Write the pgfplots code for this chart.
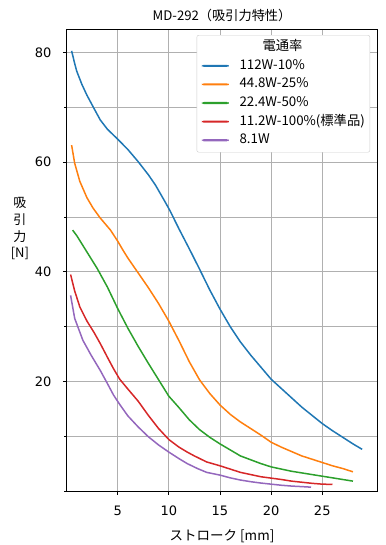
\documentclass[border=0pt]{standalone}
\usepackage{fontspec}
\setmainfont{Noto Sans CJK JP}
\newfontfamily\dejavu{DejaVu Sans}
\usepackage{pgfplots}
\pgfplotsset{compat=1.18}
\definecolor{c1}{HTML}{1F77B4}
\definecolor{c2}{HTML}{FF7F0E}
\definecolor{c3}{HTML}{2CA02C}
\definecolor{c4}{HTML}{D62728}
\definecolor{c5}{HTML}{9467BD}
\definecolor{gridc}{HTML}{B0B0B0}
\definecolor{legc}{HTML}{CCCCCC}
\begin{document}
\fontsize{13bp}{16bp}\selectfont
\begin{tikzpicture}
\path[use as bounding box] (-66.5bp,-54bp) rectangle (319bp,491bp);
\begin{axis}[
  at={(0,0)}, anchor=south west,
  scale only axis, width=311bp, height=461.5bp,
  clip mode=individual,
  xmin=0, xmax=30.4, ymin=0, ymax=84.2,
  xtick={5,10,15,20,25},
  ytick={20,40,60,80},
  minor ytick={0,10,30,50,70},
  grid=both,
  major grid style={color=gridc, line width=0.8bp},
  minor grid style={color=gridc, line width=0.8bp},
  tick align=outside, tick pos=left,
  major tick length=3.5bp, minor tick length=2bp,
  every tick/.style={black, line width=0.8bp},
  axis line style={line width=0.8bp},
  /pgf/number format/assume math mode=true,
  ticklabel style={font=\dejavu\fontsize{13bp}{15bp}\selectfont},
  xticklabel style={anchor=base, yshift=-21.3bp},
  yticklabel style={anchor=east, inner sep=0pt, xshift=-11.5bp},
  title={\fontsize{13.2bp}{15bp}\selectfont MD-292（吸引力特性）},
  title style={anchor=base, at={(axis description cs:0.5,1)}, yshift=3bp, inner sep=0pt},
  xlabel={\fontsize{13.5bp}{16bp}\selectfont ストローク [mm]},
  xlabel style={anchor=base, at={(axis description cs:0.5,0)}, yshift=-49bp, inner sep=0pt},
  legend style={at={(axis description cs:0.976,0.988)}, anchor=north east,
    draw=legc, rounded corners=2bp, fill=white,
    font=\fontsize{13.3bp}{16bp}\selectfont, row sep=5.6bp, inner xsep=5bp, inner ysep=5.5bp,
    nodes={inner sep=0pt, text height=10bp, text depth=3bp}},
  legend cell align=left,
  legend image code/.code={\fill[#1, draw=none] (0bp,-1.05bp) rectangle (27bp,1.05bp); \path (37bp,0bp);},
]
\addlegendimage{empty legend}
\addlegendentry{\hspace*{23bp}電通率}
\addplot[c1, line width=1.5bp] coordinates {(0.5,80.3)(0.8,78)(1,76.6)(1.5,74.2)(2,72.2)(2.6,70.1)(3.3,67.7)(4,66.0)(5,64.2)(6,62.3)(7,60.1)(8,57.7)(8.7,55.8)(9.5,53.2)(10.1,51.2)(11,47.8)(12,44.2)(13,40.5)(14,36.7)(15,33.2)(16,30)(17,27.2)(18,24.8)(19,22.6)(20,20.4)(21,18.7)(22,17)(23,15.3)(24,13.8)(25,12.3)(26,11)(27,9.8)(28,8.6)(28.9,7.6)};
\addlegendentry{112W-10\%}
\addplot[c2, line width=1.5bp] coordinates {(0.5,63.1)(0.8,59.8)(1.3,56.5)(2,53.5)(2.6,51.6)(3.3,49.8)(4.3,47.6)(5,45.6)(5.5,44)(6,42.5)(7,39.8)(8,37.1)(9,34.2)(10,31)(11,27.4)(12,23.6)(13,20.3)(14,17.8)(15,15.7)(16,14)(17,12.6)(18,11.4)(19,10.2)(20,8.9)(21,8)(22,7.2)(23,6.4)(24,5.8)(25,5.2)(26,4.6)(27,4.1)(28,3.5)};
\addlegendentry{44.8W-25\%}
\addplot[c3, line width=1.5bp] coordinates {(0.6,47.6)(1,46.6)(2,43.6)(3,40.6)(4,37.2)(5,33.3)(6,29.7)(7,26.4)(8,23.3)(9,20.3)(10,17.3)(11,15.2)(12,13)(13,11.2)(14,9.8)(15,8.6)(16,7.5)(17,6.4)(18,5.7)(19,5)(20,4.4)(21,4)(22,3.6)(23,3.3)(24,3)(25,2.7)(26,2.4)(27,2.1)(28,1.8)};
\addlegendentry{22.4W-50\%}
\addplot[c4, line width=1.5bp] coordinates {(0.4,39.5)(0.8,36.5)(1.3,33.6)(2,31)(2.7,28.9)(3.3,26.9)(4,24.4)(4.6,22.3)(5.2,20.4)(6,18.6)(7,16.4)(8,13.8)(9,11.4)(10,9.4)(11,8)(11.8,7.1)(12.5,6.4)(13.7,5.3)(15,4.6)(16,4)(17,3.4)(18,3)(19,2.6)(20,2.35)(21,2.1)(22,1.8)(23,1.6)(24,1.4)(25,1.25)(26,1.2)};
\addlegendentry{11.2W-100\%(標準品)}
\addplot[c5, line width=1.5bp] coordinates {(0.4,35.7)(0.8,31.5)(1.6,27.5)(2.4,24.8)(3.3,22)(4,19.6)(4.6,17.5)(5.2,15.8)(6,13.7)(7,11.7)(8,9.9)(9,8.4)(10,7.1)(11,5.9)(11.8,5)(12.8,4.1)(13.7,3.4)(15,2.9)(16,2.4)(17,2)(18,1.7)(19,1.45)(20,1.25)(21,1.05)(22,0.9)(23,0.8)(23.9,0.7)};
\addlegendentry{8.1W}
\node[align=center, anchor=south, inner sep=0pt, font=\fontsize{13bp}{16.7bp}\selectfont] at (axis description cs:-0.15,0.5) {吸\\引\\力\\{}[N]};
\end{axis}
\end{tikzpicture}
\end{document}
